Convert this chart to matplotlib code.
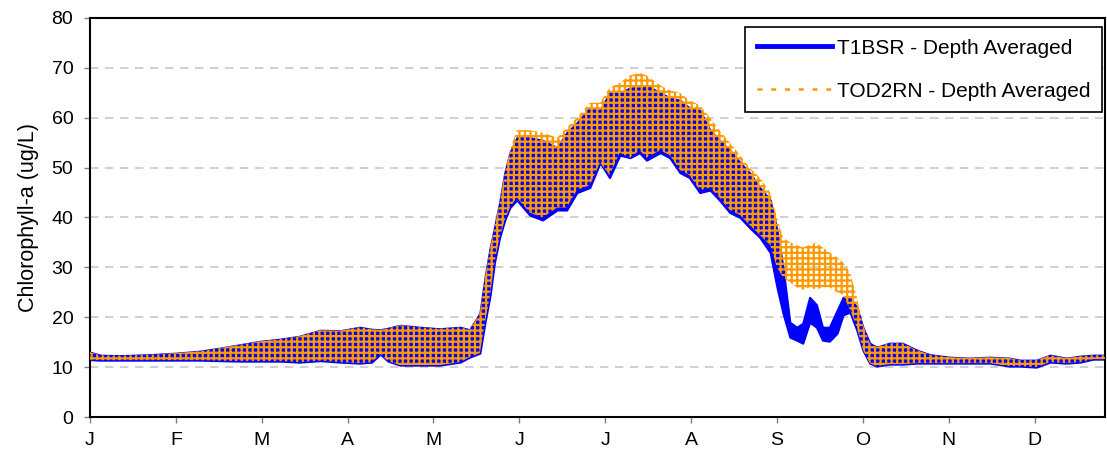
import matplotlib
matplotlib.use("Agg")
import matplotlib.pyplot as plt
from matplotlib.lines import Line2D

# time axis in months from 1 January
months = [0.00, 0.12, 0.35, 0.70, 1.00, 1.28, 1.51, 1.75, 1.99, 2.21,
          2.44, 2.68, 2.91, 3.14, 3.28, 3.38, 3.47, 3.61, 3.84, 4.07,
          4.31, 4.42, 4.54, 4.60, 4.66, 4.71, 4.77, 4.83, 4.89, 4.97,
          5.12, 5.27, 5.44, 5.55, 5.67, 5.82, 5.94, 6.05, 6.17, 6.29,
          6.40, 6.48, 6.64, 6.75, 6.87, 6.98, 7.10, 7.22, 7.33, 7.45,
          7.57, 7.68, 7.80, 7.92, 8.00, 8.07, 8.15, 8.23, 8.30, 8.38,
          8.46, 8.53, 8.61, 8.70, 8.77, 8.85, 8.93, 9.00, 9.08, 9.16,
          9.31, 9.46, 9.63, 9.78, 10.01, 10.24, 10.48, 10.71, 10.83, 11.02,
          11.18, 11.37, 11.53, 11.68, 11.82]

# T1BSR - lower / upper edge of the tidal band (ug/L)
t1bsr_low = [11.5, 11.4, 11.4, 11.4, 11.4, 11.4, 11.3, 11.2, 11.2, 11.2,
             11.0, 11.3, 11.0, 10.8, 11.0, 12.6, 11.2, 10.4, 10.4, 10.4,
             11.0, 12.0, 12.8, 19.0, 24.5, 31.0, 36.0, 39.5, 42.0, 43.5,
             40.5, 39.5, 41.5, 41.5, 45.0, 46.0, 51.0, 48.0, 52.5, 52.0,
             53.0, 51.5, 53.0, 52.0, 49.0, 48.0, 45.0, 45.5, 43.5, 41.0,
             40.0, 38.0, 36.0, 33.0, 26.0, 20.8, 16.0, 15.4, 14.8, 19.0,
             18.0, 15.4, 15.2, 16.8, 20.5, 21.0, 17.4, 13.4, 10.8, 10.2,
             10.6, 10.6, 10.8, 10.8, 10.8, 10.8, 10.8, 10.2, 10.2, 10.0,
             11.0, 10.8, 11.0, 11.6, 11.6]
t1bsr_high = [13.0, 12.4, 12.3, 12.5, 12.8, 13.2, 13.8, 14.5, 15.2, 15.6,
              16.2, 17.4, 17.3, 18.0, 17.6, 17.5, 17.8, 18.4, 18.0, 17.7,
              18.0, 17.5, 20.8, 28.0, 34.0, 38.0, 43.0, 49.0, 53.0, 56.0,
              56.0, 55.5, 54.0, 57.0, 59.0, 62.0, 61.5, 65.0, 65.0, 66.0,
              66.0, 66.5, 65.0, 64.0, 63.5, 62.0, 61.5, 57.5, 55.5, 53.5,
              51.0, 49.0, 46.0, 43.5, 37.5, 30.0, 19.0, 18.0, 18.8, 24.0,
              22.5, 18.0, 18.0, 21.4, 24.0, 24.0, 22.0, 18.0, 14.8, 14.0,
              14.8, 14.8, 13.4, 12.5, 12.0, 11.8, 12.0, 11.8, 11.4, 11.4,
              12.4, 11.8, 12.2, 12.4, 12.4]

# TOD2RN - lower / upper edge of the tidal band (ug/L)
tod2rn_low = [11.5, 11.4, 11.4, 11.4, 11.4, 11.4, 11.3, 11.2, 11.2, 11.2,
              11.0, 11.3, 11.0, 10.8, 11.0, 12.6, 11.2, 10.4, 10.4, 10.4,
              11.0, 12.0, 12.8, 19.0, 24.5, 31.0, 36.0, 39.5, 42.0, 44.0,
              41.0, 40.0, 42.0, 42.0, 45.5, 46.5, 51.0, 48.5, 53.0, 52.0,
              53.5, 52.0, 53.5, 52.5, 49.5, 48.5, 45.5, 46.0, 44.0, 41.5,
              40.5, 38.5, 36.5, 34.5, 30.0, 28.0, 27.0, 26.0, 25.5, 26.0,
              25.5, 26.0, 26.0, 25.0, 24.5, 21.5, 18.0, 13.5, 10.8, 10.2,
              10.6, 10.6, 10.8, 10.8, 10.8, 10.8, 10.8, 10.2, 10.2, 10.0,
              11.0, 10.8, 11.0, 11.6, 11.6]
tod2rn_high = [13.0, 12.4, 12.3, 12.5, 12.8, 13.2, 13.8, 14.5, 15.2, 15.6,
               16.2, 17.4, 17.3, 18.0, 17.6, 17.5, 17.8, 18.4, 18.0, 17.7,
               18.0, 17.5, 20.8, 28.0, 34.0, 38.0, 43.0, 49.0, 53.5, 57.5,
               57.5, 57.0, 56.0, 58.0, 60.0, 63.0, 63.0, 66.0, 67.0, 68.5,
               69.0, 68.5, 66.5, 65.5, 65.0, 63.5, 62.5, 60.0, 57.5, 55.0,
               52.5, 50.0, 48.0, 45.0, 40.0, 36.0, 35.0, 34.5, 34.0, 34.5,
               35.0, 34.0, 33.0, 32.0, 31.0, 29.0, 24.0, 18.5, 14.8, 14.0,
               14.8, 14.8, 13.4, 12.5, 12.0, 11.8, 12.0, 11.8, 11.4, 11.4,
               12.4, 11.8, 12.2, 12.4, 12.4]

month_labels = ['J', 'F', 'M', 'A', 'M', 'J', 'J', 'A', 'S', 'O', 'N', 'D']

blue = '#0000FF'
orange = '#FF9900'

plt.rcParams['font.family'] = ['Liberation Sans', 'DejaVu Sans']
plt.rcParams['hatch.linewidth'] = 1.6

fig = plt.figure(figsize=(11.07, 4.66), dpi=100)
ax = fig.add_axes([90/1107, 1 - 417/466, 1015/1107, 399/466])

ax.yaxis.grid(True, color='#C8C8C8', linestyle=(0, (5, 4)), linewidth=1.2)
ax.set_axisbelow(True)

ax.fill_between(months, t1bsr_low, t1bsr_high, facecolor=blue,
                edgecolor=blue, linewidth=1.5, zorder=2)
ax.fill_between(months, tod2rn_low, tod2rn_high, facecolor='none',
                edgecolor=orange, hatch='+++', linewidth=0, zorder=3)

ax.set_xlim(0, 11.82)
ax.set_ylim(0, 80)
ax.set_yticks(range(0, 81, 10))
ax.set_xticks(range(12))
ax.set_xticklabels(month_labels)
ax.tick_params(axis='both', labelsize=14, direction='out', length=4,
               width=1, color='#808080')
ax.tick_params(axis='x', pad=7)
ax.tick_params(axis='y', pad=8)
ax.set_ylabel('Chlorophyll-a (ug/L)', fontsize=15.5, labelpad=9)

for s in ax.spines.values():
    s.set_color('black')
    s.set_linewidth(1.5)

handles = [Line2D([], [], color=blue, linewidth=3.5),
           Line2D([], [], color=orange, linewidth=1.8, linestyle=(0, (2, 3.5)))]
leg = ax.legend(handles, ['T1BSR - Depth Averaged', 'TOD2RN - Depth Averaged'],
                loc='upper right', bbox_to_anchor=(0.997, 0.977),
                borderaxespad=0, fontsize=15, handlelength=3.6,
                labelspacing=1.15, fancybox=False, framealpha=1,
                edgecolor='black', borderpad=0.55, handletextpad=0.25)
leg.get_frame().set_linewidth(1.2)

fig.savefig('out.png', dpi=100)
